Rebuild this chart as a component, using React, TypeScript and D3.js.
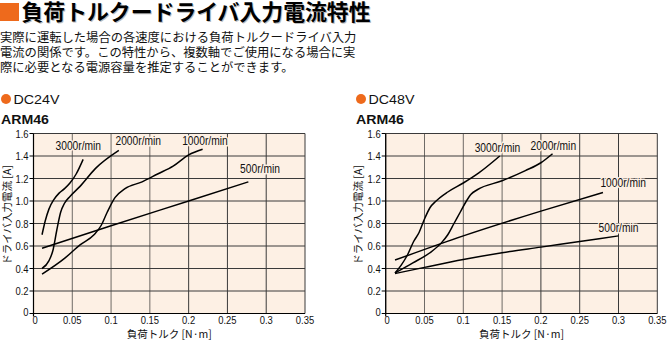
import React from "react";
import * as d3 from "d3";

// ---------- data ----------
const xTickValues = [0, 0.05, 0.1, 0.15, 0.2, 0.25, 0.3, 0.35];
const xTickLabels = ["0", "0.05", "0.1", "0.15", "0.2", "0.25", "0.3", "0.35"];
const yTickValues = [0, 0.2, 0.4, 0.6, 0.8, 1.0, 1.2, 1.4, 1.6];
const yTickLabels = ["0", "0.2", "0.4", "0.6", "0.8", "1.0", "1.2", "1.4", "1.6"];

const speedNames = ["3000r/min", "2000r/min", "1000r/min", "500r/min"];

// DC24V series: [torque N·m, current A]
const dc24_3000: [number, number][] = [
  [0.011, 0.7], [0.015, 0.82], [0.02, 0.93], [0.026, 1.01], [0.033, 1.07],
  [0.04, 1.11], [0.047, 1.16], [0.055, 1.24], [0.064, 1.37],
];
const dc24_2000: [number, number][] = [
  [0.011, 0.4], [0.02, 0.47], [0.025, 0.56], [0.03, 0.74], [0.035, 0.9],
  [0.04, 0.98], [0.047, 1.04], [0.06, 1.13], [0.08, 1.29], [0.11, 1.45],
];
const dc24_1000: [number, number][] = [
  [0.011, 0.35], [0.04, 0.49], [0.06, 0.61], [0.078, 0.7], [0.087, 0.78],
  [0.095, 0.9], [0.105, 1.03], [0.118, 1.11], [0.14, 1.17], [0.16, 1.24],
  [0.18, 1.31], [0.2, 1.41], [0.218, 1.46],
];
const dc24_500: [number, number][] = [
  [0.011, 0.58], [0.1, 0.78], [0.2, 1.0], [0.277, 1.17],
];

// DC48V series
const dc48_3000: [number, number][] = [
  [0.012, 0.36], [0.02, 0.43], [0.028, 0.52], [0.036, 0.64], [0.043, 0.72],
  [0.05, 0.84], [0.057, 0.94], [0.065, 1.0], [0.08, 1.08], [0.1, 1.16],
  [0.12, 1.25], [0.147, 1.4],
];
const dc48_2000: [number, number][] = [
  [0.012, 0.36], [0.035, 0.45], [0.057, 0.54], [0.072, 0.63], [0.08, 0.7],
  [0.088, 0.8], [0.096, 0.9], [0.104, 1.0], [0.11, 1.06], [0.118, 1.1],
  [0.15, 1.18], [0.18, 1.27], [0.2, 1.34], [0.215, 1.42],
];
const dc48_1000: [number, number][] = [
  [0.012, 0.475], [0.1, 0.69], [0.2, 0.91], [0.28, 1.075],
];
const dc48_500: [number, number][] = [
  [0.012, 0.355], [0.05, 0.41], [0.1, 0.48], [0.15, 0.54], [0.2, 0.59],
  [0.25, 0.64], [0.3, 0.69],
];

// label anchors (data coordinates: centre x, baseline y)
const dc24LabelPos: [number, number][] = [[0.0577, 1.453], [0.135, 1.498], [0.221, 1.498], [0.292, 1.246]];
const dc48LabelPos: [number, number][] = [[0.144, 1.438], [0.216, 1.453], [0.306, 1.122], [0.3, 0.727]];

// ---------- styles ----------
const ORANGE = "#ee6a1c";
const BG = "#fdf0e4";
const GRID = "#3a3a3a";
const JP = "'Noto Sans CJK JP', 'Noto Sans', sans-serif";
const SANS = "'Liberation Sans', Arial, sans-serif";
const SQUEEZE = 0.82;

type NProps = {
  x: number;
  y: number;
  size: number;
  anchor?: "start" | "middle" | "end";
  halo?: boolean;
  children: string;
};

// condensed text: a sans face squeezed horizontally
function NText({ x, y, size, anchor = "start", halo = false, children }: NProps) {
  return (
    <text transform={`translate(${x},${y}) scale(${SQUEEZE},1)`} textAnchor={anchor}
      fontFamily={SANS} fontSize={size} fill="#111"
      {...(halo ? { stroke: BG, strokeWidth: 3, paintOrder: "stroke", strokeLinejoin: "round" } : {})}>
      {children}
    </text>
  );
}

type ChartProps = {
  x0: number;
  x1: number;
  series: [number, number][][];
  labelPos: [number, number][];
  voltage: string;
  headX: number;
  yTitleX: number;
};

function Chart({ x0, x1, series, labelPos, voltage, headX, yTitleX }: ChartProps) {
  const x = d3.scaleLinear().domain([0, 0.35]).range([x0, x1]);
  const y = d3.scaleLinear().domain([0, 1.6]).range([313.5, 133.5]);
  const line = d3
    .line<[number, number]>()
    .x((d) => x(d[0]))
    .y((d) => y(d[1]))
    .curve(d3.curveMonotoneX);

  return (
    <g>
      {/* header */}
      <circle cx={headX + 5} cy={99} r={5} fill={ORANGE} />
      <text x={headX + 12.5} y={103.5} fontFamily={SANS} fontSize={12.5}
        textLength={46} lengthAdjust="spacingAndGlyphs" fill="#111">{voltage}</text>
      <text x={headX} y={123.5} fontFamily={SANS} fontWeight="bold"
        fontSize={12} textLength={48} lengthAdjust="spacingAndGlyphs" fill="#111">ARM46</text>

      {/* plot background */}
      <rect x={x(0)} y={y(1.6)} width={x(0.35) - x(0)} height={y(0) - y(1.6)} fill={BG} />

      {/* grid */}
      {xTickValues.map((v, i) => (
        <line key={"gx" + i} x1={x(v)} x2={x(v)} y1={y(0)} y2={y(1.6)}
          stroke={v > 0 && v <= 0.15 ? "#6e6a66" : GRID} strokeWidth={1} />
      ))}
      {yTickValues.map((v, i) => (
        <line key={"gy" + i} x1={x(0)} x2={x(0.35)} y1={y(v)} y2={y(v)} stroke={GRID} strokeWidth={1} />
      ))}
      {/* axes */}
      <line x1={x(0)} x2={x(0)} y1={y(0) + 3} y2={y(1.6)} stroke="#000" strokeWidth={1.2} />
      <line x1={x(0)} x2={x(0.35)} y1={y(0)} y2={y(0)} stroke="#000" strokeWidth={1.2} />

      {/* y ticks */}
      {yTickValues.map((v, i) => (
        <g key={"yt" + i}>
          <line x1={x(0) - 4} x2={x(0)} y1={y(v)} y2={y(v)} stroke="#000" strokeWidth={1} />
          <NText x={x(0) - 5} y={(v === 0 ? y(v) - 2 : y(v)) + 4} size={11.5} anchor="end">
            {yTickLabels[i]}
          </NText>
        </g>
      ))}
      {/* x ticks */}
      {xTickValues.map((v, i) => (
        <NText key={"xt" + i} x={v === 0 ? x(v) + 1.5 : x(v)} y={323.5} size={11.5} anchor="middle">
          {xTickLabels[i]}
        </NText>
      ))}

      {/* curves */}
      {series.map((s, i) => (
        <path key={"s" + i} d={line(s) || ""} fill="none" stroke="#000" strokeWidth={1.5} />
      ))}

      {/* curve labels */}
      {labelPos.map((p, i) => (
        <NText key={"l" + i} x={x(p[0])} y={y(p[1])} size={12.5} anchor="middle" halo>
          {speedNames[i]}
        </NText>
      ))}

      {/* axis titles */}
      <text x={(x(0) + x(0.35)) / 2} y={338} textAnchor="middle" fontFamily={JP} fontSize={10.5}
        fill="#111">負荷トルク [N·m]</text>
      <text transform={`translate(${yTitleX},215) rotate(-90)`} textAnchor="middle" dy="0.35em"
        fontFamily={JP} fontSize={10.5} fill="#111">ドライバ入力電流 [A]</text>
    </g>
  );
}

export default function App() {
  return (
    <svg width={668} height={342} style={{ display: "block", position: "absolute", left: 0, top: 0 }}
      viewBox="0 0 668 342">
      <rect width={668} height={342} fill="#fff" />
      {/* title */}
      <rect x={0} y={3} width={19} height={18} fill={ORANGE} />
      <text x={22.5} y={21} fontFamily={JP} fontWeight="bold" fontSize={22} fill="#bbb"
        textLength={349} lengthAdjust="spacingAndGlyphs">負荷トルクードライバ入力電流特性</text>
      <text x={21.5} y={20} fontFamily={JP} fontWeight="bold" fontSize={22} fill="#000"
        textLength={349} lengthAdjust="spacingAndGlyphs">負荷トルクードライバ入力電流特性</text>
      <g fontFamily={JP} fontSize={12.3} fill="#111">
        <text x={0} y={41.5}>実際に運転した場合の各速度における負荷トルクードライバ入力</text>
        <text x={0} y={56.5}>電流の関係です。この特性から、複数軸でご使用になる場合に実</text>
        <text x={0} y={71.5}>際に必要となる電源容量を推定することができます。</text>
      </g>

      <Chart x0={33.5} x1={305} series={[dc24_3000, dc24_2000, dc24_1000, dc24_500]}
        labelPos={dc24LabelPos} voltage="DC24V" headX={1} yTitleX={7} />
      <Chart x0={385.7} x1={657.3} series={[dc48_3000, dc48_2000, dc48_1000, dc48_500]}
        labelPos={dc48LabelPos} voltage="DC48V" headX={356} yTitleX={358} />
    </svg>
  );
}
